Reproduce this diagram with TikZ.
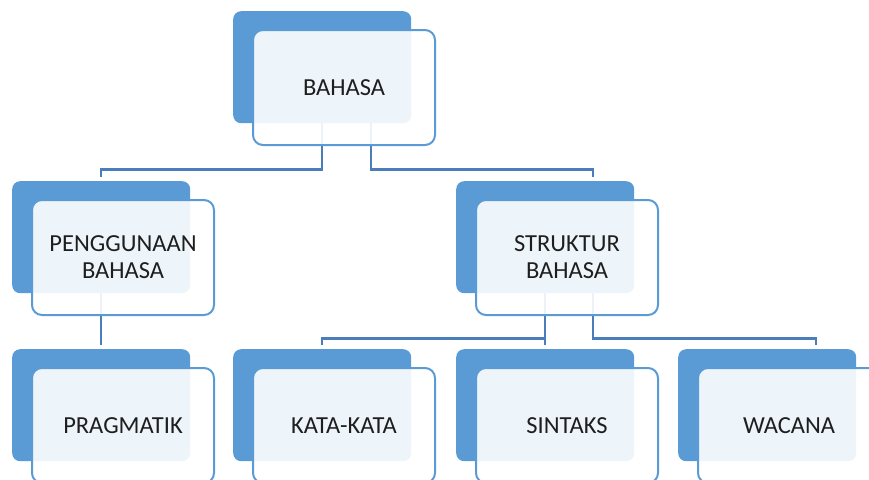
\documentclass[tikz,border=0pt]{standalone}
\usepackage{fontspec}
\setmainfont{Carlito}
\usetikzlibrary{positioning}

% Define colors
\definecolor{boxblue}{RGB}{91, 155, 213}
\definecolor{linkblue}{RGB}{74, 126, 187}
\definecolor{textgray}{RGB}{30, 30, 30}

\tikzset{
  backbox/.style={rectangle, rounded corners=8pt, fill=boxblue, inner sep=0pt,
    minimum width=178pt, minimum height=112pt, anchor=north west},
  frontbox/.style={rectangle, rounded corners=10pt, draw=boxblue, line width=2pt,
    fill=white, fill opacity=0.9, text opacity=1, text=textgray, align=center,
    inner sep=0pt, minimum width=182pt, minimum height=115pt,
    font=\fontsize{24.5}{27}\selectfont},
  conn/.style={draw=linkblue, line width=2.5pt}
}

\begin{document}
\begin{tikzpicture}[x=1pt, y=-1pt]

\useasboundingbox (0,0) rectangle (869,479);
\clip (0,0) rectangle (869,479);

% Draw the back boxes
\node[backbox] (bahasaB) at (233, 11) {};
\node[backbox] (gunaB) at (12, 181) {};
\node[backbox] (strukB) at (456, 181) {};
\node[backbox] (pragB) at (12, 349) {};
\node[backbox] (kataB) at (233, 349) {};
\node[backbox] (sinB) at (456, 349) {};
\node[backbox] (wacB) at (678, 349) {};

% Draw the connectors
\draw[conn] (bahasaB.south) -- ++(0, 46) -| ([yshift=4pt]gunaB.north);
\draw[conn] ([xshift=49pt]bahasaB.south) -- ++(0, 46) -| ([xshift=48pt, yshift=4pt]strukB.north);
\draw[conn] (gunaB.south) -- ([yshift=4pt]pragB.north);
\draw[conn] (strukB.south) -- ++(0, 45) -| ([yshift=4pt]kataB.north);
\draw[conn] (strukB.south) -- ([yshift=4pt]sinB.north);
\draw[conn] ([xshift=48pt]strukB.south) -- ++(0, 45) -| ([xshift=49pt, yshift=4pt]wacB.north);

% Draw the front boxes with the labels
\node[frontbox, anchor=north west] (bahasa) at ([shift={(19pt, -18pt)}]bahasaB.north west) {BAHASA};
\node[frontbox, anchor=north west] (guna) at ([shift={(19pt, -18pt)}]gunaB.north west) {PENGGUNAAN\\BAHASA};
\node[frontbox, anchor=north west] (struk) at ([shift={(19pt, -18pt)}]strukB.north west) {STRUKTUR\\BAHASA};
\node[frontbox, anchor=north west] (prag) at ([shift={(19pt, -18pt)}]pragB.north west) {PRAGMATIK};
\node[frontbox, anchor=north west] (kata) at ([shift={(19pt, -18pt)}]kataB.north west) {KATA-KATA};
\node[frontbox, anchor=north west] (sin) at ([shift={(19pt, -18pt)}]sinB.north west) {SINTAKS};
\node[frontbox, anchor=north west] (wac) at ([shift={(19pt, -18pt)}]wacB.north west) {WACANA};

\end{tikzpicture}
\end{document}
